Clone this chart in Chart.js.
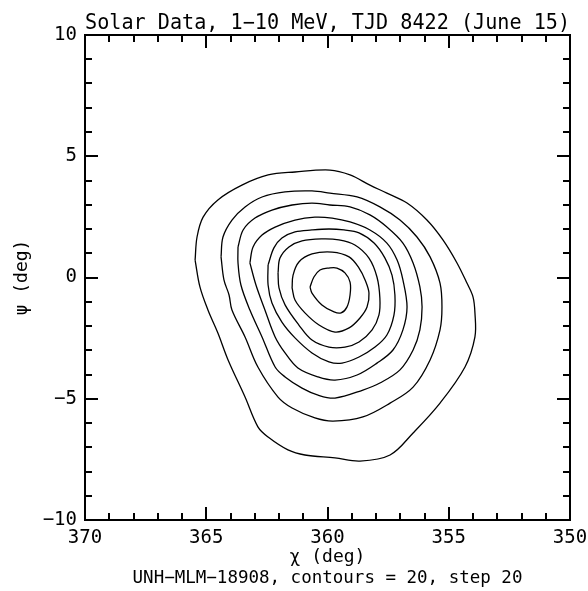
<!DOCTYPE html>
<html><head><meta charset="utf-8">
<script src="https://cdn.jsdelivr.net/npm/chart.js@4/dist/chart.umd.min.js"></script>
<style>html,body{margin:0;padding:0;background:#fff}</style>
</head><body>
<canvas id="c" width="588" height="591"></canvas>
<script>
// ---- text ----
const titleText = 'Solar Data, 1\u221210 MeV, TJD 8422 (June 15)';
const footerText = 'UNH\u2212MLM\u221218908, contours = 20, step 20';
const xTitle = '\u03c7 (deg)';
const yTitle = '\u03c8 (deg)';

// ---- axes ----
const xRange = [350, 370];
const yRange = [-10, 10];
const xTickValues = [350,351,352,353,354,355,356,357,358,359,360,361,362,363,364,365,366,367,368,369,370];
const yTickValues = [-10,-9,-8,-7,-6,-5,-4,-3,-2,-1,0,1,2,3,4,5,6,7,8,9,10];

// ---- contour levels (outer to inner) ----
const levels = [20, 40, 60, 80, 100, 120, 140, 160];

// ---- contour paths [chi, psi] ----
const contour1 = [[365.46,0.72],[365.38,1.67],[365.13,2.49],[364.52,3.20],[363.53,3.81],[362.45,4.23],[361.34,4.35],[359.90,4.43],[359.07,4.23],[358.25,3.81],[357.55,3.48],[356.72,3.07],[355.90,2.37],[355.24,1.55],[354.66,0.60],[354.25,-0.23],[354.00,-0.80],[353.92,-1.46],[353.92,-2.45],[354.33,-3.69],[355.36,-5.18],[356.47,-6.41],[357.42,-7.32],[358.66,-7.57],[359.69,-7.44],[360.93,-7.32],[361.63,-7.11],[362.45,-6.58],[362.87,-6.16],[363.40,-4.93],[364.10,-3.40],[364.52,-2.29],[364.93,-1.34],[365.26,-0.39],[365.46,0.72]];
const contour2 = [[364.39,0.85],[364.31,1.67],[363.94,2.37],[363.40,2.91],[362.70,3.32],[361.75,3.53],[360.64,3.57],[359.90,3.48],[358.78,3.32],[357.84,2.91],[357.01,2.37],[356.31,1.67],[355.77,0.85],[355.36,-0.23],[355.28,-1.22],[355.36,-2.16],[355.77,-3.40],[356.47,-4.52],[357.42,-5.18],[358.54,-5.75],[359.77,-5.92],[360.52,-5.79],[361.46,-5.38],[362.04,-4.93],[362.87,-3.69],[363.40,-2.45],[363.94,-1.34],[364.06,-0.72],[364.27,-0.10],[364.39,0.85]];
const contour3 = [[363.69,1.26],[363.48,1.96],[362.99,2.45],[362.29,2.78],[361.46,2.99],[360.64,3.07],[359.90,2.99],[359.07,2.91],[358.25,2.58],[357.55,2.08],[356.89,1.42],[356.47,0.60],[356.19,-0.39],[356.10,-1.22],[356.19,-2.16],[356.47,-2.99],[357.01,-3.81],[357.84,-4.35],[358.54,-4.64],[359.69,-4.97],[360.39,-4.85],[361.05,-4.56],[361.75,-4.10],[362.16,-3.69],[362.70,-2.45],[363.20,-1.34],[363.57,-0.31],[363.69,0.60],[363.69,1.26]];
const contour4 = [[363.20,0.60],[363.07,1.26],[362.70,1.75],[362.16,2.08],[361.34,2.37],[360.52,2.49],[359.81,2.45],[359.07,2.29],[358.25,1.96],[357.55,1.42],[357.13,0.72],[356.89,-0.10],[356.72,-1.22],[356.89,-2.16],[357.30,-2.99],[357.96,-3.53],[358.78,-4.02],[359.69,-4.23],[360.39,-4.10],[361.22,-3.73],[361.75,-3.11],[362.16,-2.45],[362.58,-1.34],[362.95,-0.31],[363.20,0.60]];
const contour5 = [[362.45,0.52],[362.21,1.22],[361.88,1.63],[361.34,1.88],[360.64,1.96],[359.94,2.00],[359.32,1.96],[358.70,1.84],[358.08,1.42],[357.63,0.80],[357.34,0.10],[357.22,-0.72],[357.26,-1.55],[357.55,-2.37],[358.04,-2.87],[358.70,-3.28],[359.40,-3.53],[359.94,-3.48],[360.64,-3.11],[361.34,-2.49],[361.88,-1.84],[362.29,-1.05],[362.45,-0.31],[362.45,0.52]];
const contour6 = [[362.04,0.19],[361.96,0.80],[361.59,1.26],[361.05,1.51],[360.23,1.59],[359.53,1.55],[358.87,1.34],[358.29,0.80],[357.96,0.02],[357.84,-0.85],[357.88,-1.55],[358.16,-2.16],[358.70,-2.66],[359.28,-2.87],[359.94,-2.87],[360.64,-2.58],[361.18,-1.96],[361.75,-1.13],[362.00,-0.43],[362.04,0.19]];
const contour7 = [[361.46,-0.43],[361.42,0.10],[361.18,0.64],[360.64,0.97],[359.81,1.05],[359.11,0.85],[358.70,0.39],[358.45,-0.10],[358.29,-0.64],[358.37,-1.22],[358.66,-1.67],[359.11,-2.08],[359.69,-2.25],[360.35,-1.96],[360.93,-1.46],[361.34,-0.93],[361.46,-0.43]];
const contour8 = [[360.72,-0.39],[360.56,0.02],[360.31,0.31],[359.94,0.39],[359.61,0.39],[359.28,0.19],[359.07,-0.19],[359.07,-0.72],[359.20,-1.22],[359.44,-1.46],[359.73,-1.42],[360.23,-1.13],[360.64,-0.64],[360.72,-0.39]];

const contours = [contour1, contour2, contour3, contour4, contour5, contour6, contour7, contour8];

const FONT = "'DejaVu Sans Mono', monospace";
const fmt = v => (v < 0 ? '\u2212' + Math.abs(v) : String(v));

const frameTicks = {
  id: 'frameTicks',
  afterDraw(chart) {
    const {ctx, chartArea: a, scales: {x, y}} = chart;
    ctx.save();
    ctx.strokeStyle = '#000';
    ctx.lineWidth = 2;
    ctx.beginPath();
    xTickValues.forEach(v => {
      const px = Math.round(x.getPixelForValue(v));
      const len = v % 5 === 0 ? 13 : 7;
      ctx.moveTo(px, a.top); ctx.lineTo(px, a.top + len);
      ctx.moveTo(px, a.bottom); ctx.lineTo(px, a.bottom - len);
    });
    yTickValues.forEach(v => {
      const py = Math.round(y.getPixelForValue(v));
      const len = v % 5 === 0 ? 13 : 7;
      ctx.moveTo(a.left, py); ctx.lineTo(a.left + len, py);
      ctx.moveTo(a.right, py); ctx.lineTo(a.right - len, py);
    });
    ctx.stroke();
    ctx.strokeRect(a.left, a.top, a.right - a.left, a.bottom - a.top);
    ctx.restore();
  }
};

Chart.defaults.color = '#000';

new Chart(document.getElementById('c'), {
  type: 'scatter',
  data: {
    datasets: contours.map((c, i) => ({
      label: 'level ' + levels[i],
      data: c.map(p => ({x: p[0], y: p[1]})),
      showLine: true,
      borderColor: '#000',
      borderWidth: 1.3,
      pointRadius: 0,
      tension: 0.35,
      fill: false
    }))
  },
  options: {
    responsive: false,
    animation: false,
    devicePixelRatio: 1,
    layout: {padding: {left: 0, right: 18, top: 0, bottom: 0}},
    plugins: {
      legend: {display: false},
      tooltip: {enabled: false},
      title: {
        display: true, text: titleText, fullSize: false, color: '#000',
        font: {family: FONT, size: 20.5, weight: 'normal', lineHeight: '20px'},
        padding: {top: 14, bottom: 1}
      },
      subtitle: {
        display: true, position: 'bottom', text: footerText, fullSize: false, color: '#000',
        font: {family: FONT, size: 17.5, weight: 'normal', lineHeight: '20px'},
        padding: {top: 0, bottom: 3}
      }
    },
    scales: {
      x: {
        type: 'linear', min: xRange[0], max: xRange[1], reverse: true,
        grid: {display: false, drawTicks: false},
        border: {display: false},
        ticks: {stepSize: 5, font: {family: FONT, size: 19}, color: '#000', padding: 7, maxRotation: 0, callback: fmt},
        title: {display: true, text: xTitle, font: {family: FONT, size: 18}, color: '#000', padding: {top: 0, bottom: 0}},
        afterFit: s => { s.height = 48; s.paddingLeft = 0; s.paddingRight = 0; }
      },
      y: {
        type: 'linear', min: yRange[0], max: yRange[1],
        grid: {display: false, drawTicks: false},
        border: {display: false},
        ticks: {stepSize: 5, font: {family: FONT, size: 19}, color: '#000', padding: 8, callback: fmt},
        title: {display: true, text: yTitle, font: {family: FONT, size: 18}, color: '#000', padding: {top: 12, bottom: 0}},
        afterFit: s => { s.width = 85; s.paddingTop = 0; s.paddingBottom = 0; }
      }
    }
  },
  plugins: [frameTicks]
});
</script>
</body></html>
